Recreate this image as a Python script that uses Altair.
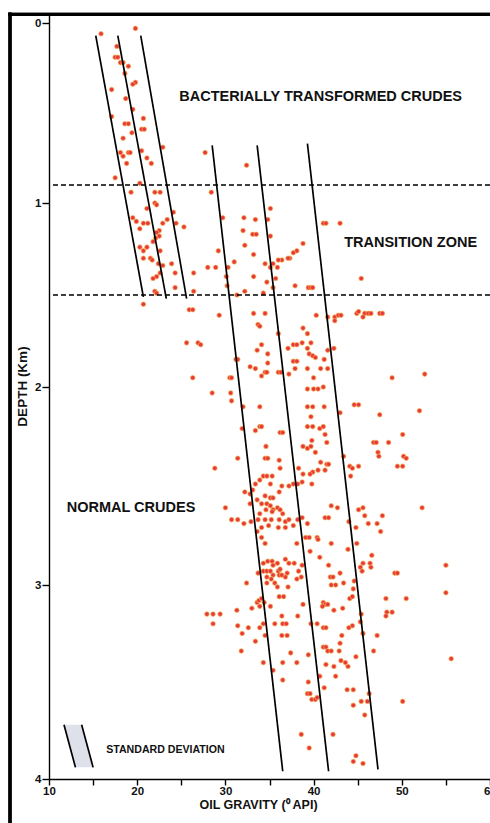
import altair as alt
import pandas as pd

# ---------------- data (API gravity, depth km) ----------------
bacterial = [(15.9,0.06),(19.8,0.03),(17.7,0.13),(17.5,0.19),(17.8,0.19),(18.1,0.22),(18.4,0.22),
             (19.0,0.24),(18.6,0.28),(19.8,0.33),(19.5,0.34),(17.1,0.37),(18.7,0.42),(19.5,0.48),
             (17.1,0.52),(20.7,0.53),(18.6,0.56),(19.0,0.56),(20.5,0.59),(20.8,0.59),(19.4,0.61),
             (18.4,0.64),(22.9,0.69),(18.1,0.72),(18.4,0.74),(19.0,0.72),(19.2,0.72),(20.5,0.71),
             (21.1,0.75),(18.8,0.78),(21.6,0.78),(17.5,0.86),(27.7,0.72),(32.4,0.79),(20.3,0.89)]

transition = [(19.3,0.94),(22.0,0.94),(22.6,0.94),(22.0,1.00),(22.2,1.01),(21.1,1.03),(24.1,1.05),
              (19.5,1.08),(19.9,1.10),(20.7,1.11),(21.2,1.11),(22.9,1.11),(23.4,1.09),(24.4,1.11),
              (25.3,1.13),(20.3,1.14),(22.5,1.15),(22.2,1.16),(22.5,1.18),(22.1,1.19),(21.8,1.21),
              (20.3,1.24),(20.7,1.26),(21.1,1.24),(22.6,1.26),(20.7,1.30),(21.5,1.30),(21.7,1.31),
              (22.4,1.33),(22.9,1.34),(23.9,1.33),(24.3,1.38),(22.6,1.38),(22.2,1.40),(21.8,1.41),
              (26.4,1.38),(24.3,1.46),(22.0,1.48),(22.2,1.49),(26.4,1.48),(28.0,1.35),(28.9,1.35),
              (29.2,1.26),(29.7,1.08),(28.4,0.94),(30.3,1.35),(31.0,1.32),(30.1,1.40),(30.2,1.45),
              (32.1,1.08),(32.0,1.15),(33.4,1.09),(35.1,1.03),(34.8,1.09),(33.1,1.17),(33.5,1.17),
              (35.1,1.18),(32.2,1.23),(33.2,1.28),(38.8,1.22),(38.1,1.26),(37.7,1.27),(37.3,1.30),
              (37.1,1.30),(36.4,1.31),(36.0,1.31),(35.4,1.33),(34.5,1.33),(35.9,1.35),(35.1,1.35),
              (41.1,1.11),(41.4,1.11),(43.0,1.11),(33.2,1.40),(35.7,1.41),(34.7,1.43),(35.4,1.46),
              (37.9,1.45),(39.4,1.46),(39.7,1.46),(39.9,1.46),(45.4,1.41),(32.2,1.48),(31.3,1.50),
              (34.3,1.49)]

normal_upper = [(20.7,1.55),(25.9,1.58),(26.3,1.58),(29.3,1.61),(33.2,1.60),(34.5,1.60),(40.3,1.61),
                (41.6,1.62),(42.4,1.62),(42.8,1.61),(43.1,1.61),(42.4,1.64),(44.9,1.60),(45.1,1.59),
                (45.8,1.60),(46.2,1.60),(46.5,1.60),(47.5,1.60),(47.8,1.60),(45.6,1.62),(33.7,1.66),
                (33.9,1.67),(36.0,1.71),(38.8,1.68),(39.3,1.71),(25.6,1.76),(26.9,1.76),(27.2,1.77),
                (34.1,1.77),(37.1,1.79),(37.7,1.77),(38.1,1.77),(38.7,1.76),(39.7,1.76),(39.3,1.79),
                (39.5,1.82),(33.6,1.80),(34.8,1.82),(41.6,1.80),(42.3,1.79),(39.9,1.83),(40.2,1.84),
                (31.2,1.85),(31.4,1.85),(34.8,1.87),(37.7,1.86),(38.1,1.86),(41.2,1.85),(32.8,1.89),
                (33.4,1.90),(34.5,1.92),(34.7,1.92),(36.0,1.92),(36.3,1.92),(37.9,1.90),(39.3,1.90),
                (40.8,1.90),(41.6,1.90),(37.2,1.93),(34.1,1.94),(30.5,1.95),(30.7,1.95),(26.3,1.95),
                (40.0,1.95),(39.3,2.01),(40.0,2.01),(40.5,2.01),(41.1,2.00),(28.5,2.03),(30.6,2.03),
                (30.7,2.07),(32.0,2.10),(33.9,2.10),(39.3,2.10),(39.9,2.10),(41.2,2.10),(43.0,2.13),
                (39.7,2.15),(31.9,2.21),(33.4,2.22),(33.9,2.20),(34.1,2.20),(36.2,2.23),(36.5,2.23),
                (39.3,2.20),(39.9,2.20),(40.7,2.21),(41.1,2.20),(41.3,2.24),(39.8,2.27),(41.5,2.28),
                (34.6,2.30),(38.8,2.30),(39.3,2.31),(39.7,2.30),(40.2,2.33),(31.4,2.36),(34.5,2.36),
                (34.8,2.36),(48.9,1.95),(52.6,1.93),(44.6,2.09),(45.1,2.09),(47.5,2.14),(52.0,2.12),
                (50.1,2.24),(46.8,2.28),(47.1,2.28),(48.5,2.28),(47.3,2.33),(47.4,2.35),(50.2,2.35),
                (50.5,2.36),(49.5,2.40),(50.1,2.40),(44.1,2.40),(44.4,2.41),(44.2,2.45),(45.1,2.40),
                (43.4,2.35)]

normal_middle = [(41.5,2.39),(41.7,2.39),(41.3,2.42),(40.8,2.38),(40.5,2.42),(39.9,2.43),(39.6,2.44),
                 (38.8,2.44),(39.8,2.49),(38.3,2.41),(38.7,2.48),(38.2,2.49),(37.7,2.49),(37.2,2.50),
                 (36.4,2.50),(36.1,2.53),(35.1,2.49),(36.1,2.37),(36.2,2.41),(28.8,2.41),(34.3,2.45),
                 (34.7,2.45),(35.3,2.45),(33.9,2.47),(33.4,2.49),(33.1,2.52),(32.2,2.53),(32.8,2.54),
                 (34.5,2.55),(35.1,2.56),(35.4,2.56),(33.6,2.57),(32.8,2.59),(34.1,2.59),(34.7,2.59),
                 (35.1,2.60),(35.4,2.62),(35.9,2.61),(36.2,2.62),(36.5,2.64),(33.9,2.64),(34.6,2.62),
                 (35.3,2.63),(30.0,2.61),(30.7,2.67),(31.4,2.67),(32.1,2.69),(32.9,2.68),(33.7,2.67),
                 (34.5,2.67),(35.2,2.67),(36.1,2.67),(36.8,2.68),(37.2,2.67),(38.2,2.67),(38.7,2.66),
                 (39.3,2.69),(37.7,2.70),(41.3,2.66),(41.7,2.66),(42.0,2.60),(42.7,2.61),(44.0,2.68),
                 (44.8,2.71),(45.1,2.62),(45.6,2.61),(45.8,2.65),(47.2,2.69),(47.8,2.65),(46.2,2.69),
                 (47.6,2.73),(52.3,2.61),(33.6,2.73),(34.1,2.71),(34.1,2.76),(34.9,2.70),(36.0,2.71),
                 (36.8,2.71),(39.1,2.76),(39.5,2.76),(40.4,2.76),(40.5,2.77),(38.1,2.79),(34.5,2.79),
                 (42.0,2.79),(44.9,2.79),(39.6,2.83),(40.7,2.86),(43.9,2.82),(46.6,2.85),(45.6,2.89),
                 (46.4,2.89),(46.5,2.91),(45.3,2.91),(45.5,2.93),(41.7,2.90),(43.0,2.94),(41.9,2.96),
                 (42.2,2.96),(42.5,3.00),(43.4,2.99),(44.6,2.98),(44.5,3.02),(44.1,3.07),(44.4,3.06),
                 (49.2,2.94),(49.5,2.94),(55.0,2.90),(55.0,3.04),(48.2,3.07),(50.5,3.07)]

normal_lower = [(34.8,2.88),(35.3,2.88),(35.4,2.90),(35.9,2.89),(34.3,2.89),(33.7,2.94),(34.3,2.93),
                (34.7,2.93),(35.1,2.93),(35.4,2.95),(35.2,2.97),(34.7,2.96),(35.6,2.99),(36.0,2.93),
                (36.1,2.95),(36.8,2.87),(37.2,2.89),(37.8,2.89),(36.4,2.95),(37.0,2.94),(36.2,2.92),
                (36.8,2.96),(38.1,2.97),(38.3,2.93),(38.7,2.90),(32.4,2.99),(34.7,2.99),(35.9,3.01),
                (37.1,3.01),(36.1,3.06),(36.6,3.06),(33.6,3.09),(33.8,3.08),(33.9,3.11),(34.1,3.07),
                (34.4,3.09),(35.1,3.11),(33.0,3.12),(31.3,3.13),(27.9,3.15),(28.6,3.15),(29.4,3.15),
                (28.6,3.20),(38.8,3.10),(41.1,3.09),(41.3,3.10),(41.6,3.10),(41.0,3.11),(43.3,3.12),
                (45.4,3.15),(45.3,3.19),(48.3,3.14),(48.9,3.14),(48.2,3.16),(44.0,3.22),(44.4,3.21),
                (36.4,3.16),(36.5,3.20),(36.9,3.20),(35.6,3.20),(38.2,3.16),(39.7,3.20),(40.4,3.20),
                (41.1,3.22),(41.4,3.22),(33.9,3.22),(32.6,3.22),(31.4,3.21),(31.9,3.25),(34.5,3.26),
                (36.4,3.26),(37.0,3.26),(33.4,3.29),(31.8,3.34),(43.2,3.26),(43.0,3.30),(42.9,3.34),
                (41.1,3.32),(41.4,3.32),(41.6,3.34),(42.0,3.34),(47.2,3.26),(46.8,3.34),(55.6,3.38),
                (43.1,3.39),(43.6,3.40),(43.9,3.42),(44.8,3.37),(42.3,3.42),(41.4,3.41),(42.5,3.47),
                (40.7,3.47),(41.2,3.53),(43.8,3.54),(44.5,3.54),(39.4,3.36),(39.4,3.50),(39.3,3.56),
                (39.6,3.56),(39.8,3.59),(40.2,3.59),(40.4,3.58),(38.1,3.40),(37.4,3.35),(36.5,3.40),
                (36.5,3.49),(34.3,3.40),(35.4,3.44),(46.3,3.56),(50.1,3.60),(45.4,3.60),(46.1,3.60),
                (44.5,3.62),(45.8,3.67),(42.2,3.77),(38.6,3.77),(39.5,3.84),(44.8,3.88),(44.5,3.91),
                (45.6,3.92),(34.3,3.20),(45.6,3.25),(38.6,2.96),(42.0,3.00),(42.3,3.13)]

# trend / standard-deviation lines: (line, api_top, depth_top, api_bottom, depth_bottom)
trend_lines = [("A", 15.3, 0.07, 20.7, 1.51), ("B", 17.8, 0.07, 23.3, 1.52), ("C", 20.4, 0.07, 25.6, 1.52),
               ("D", 28.5, 0.68, 36.5, 3.96), ("E", 33.6, 0.68, 41.7, 3.96), ("F", 39.3, 0.67, 47.3, 3.95),
               ("sd1", 11.7, 3.72, 13.0, 3.94), ("sd2", 13.7, 3.72, 15.0, 3.94)]

zone_boundaries = [0.90, 1.50]

labels = [("BACTERIALLY TRANSFORMED CRUDES", 40.8, 0.41, 14.5),
          ("TRANSITION ZONE", 51.0, 1.22, 14.5),
          ("NORMAL CRUDES", 19.3, 2.61, 14.5),
          ("STANDARD DEVIATION", 23.2, 3.85, 10.6)]

x_ticks = [10, 15, 20, 25, 30, 35, 40, 45, 50, 55, 60]
y_ticks = [0, 0.5, 1, 1.5, 2, 2.5, 3, 3.5, 4]

# ---------------- tables ----------------
pts = pd.DataFrame(bacterial + transition + normal_upper + normal_middle + normal_lower,
                   columns=["api", "depth"])
rows = []
for name, a0, d0, a1, d1 in trend_lines:
    rows.append({"line": name, "api": a0, "depth": d0})
    rows.append({"line": name, "api": a1, "depth": d1})
lines_df = pd.DataFrame(rows)
sd_band = pd.DataFrame({"depth": [3.72, 3.94], "a1": [11.7, 13.0], "a2": [13.7, 15.0]})
bound_df = pd.DataFrame({"depth": zone_boundaries})
lab_df = pd.DataFrame(labels, columns=["text", "api", "depth", "size"])

FONT = "Liberation Sans, Arial, sans-serif"

xscale = alt.Scale(domain=[10, 60], nice=False, zero=False)
# piecewise scale follows the scanned axis spacing
yscale = alt.Scale(domain=[-0.05, 0, 1, 2, 3, 4], range=[0, 9, 189, 373, 571, 765],
                   nice=False, zero=False)

X = alt.X("api:Q", scale=xscale,
          axis=alt.Axis(values=x_ticks, title="OIL GRAVITY (⁰ API)", format="d",
                        labelExpr="datum.value % 10 == 0 ? datum.label : ''",
                        labelFlush=False, tickSize=6, labelPadding=0,
                        titleX=209, titleY=25, titleBaseline="middle", titleAlign="center",
                        titleFontSize=12.5))
Y = alt.Y("depth:Q", scale=yscale,
          axis=alt.Axis(values=y_ticks, title="DEPTH (Km)", format="d",
                        labelExpr="datum.value % 1 == 0 ? format(datum.value, 'd') : ''",
                        tickSize=7, labelPadding=1,
                        titleX=-27, titleY=372, titleBaseline="middle", titleAlign="center",
                        titleAngle=270, titleFontSize=13.5))

band = alt.Chart(sd_band).mark_area(orient="horizontal", color="#dfe1ea").encode(
    y=alt.Y("depth:Q", scale=yscale), x=alt.X("a1:Q", scale=xscale), x2="a2:Q")

dots = alt.Chart(pts).mark_circle(size=21, color="#e8383e", opacity=1,
                                  stroke="#f5b24e", strokeWidth=0.7).encode(x=X, y=Y)

lines = alt.Chart(lines_df).mark_line(color="black", strokeWidth=1.7).encode(
    x=alt.X("api:Q", scale=xscale), y=alt.Y("depth:Q", scale=yscale), detail="line:N")

bounds = alt.Chart(bound_df).mark_rule(color="black", strokeWidth=1.4, strokeDash=[5, 3]).encode(
    y=alt.Y("depth:Q", scale=yscale))

texts = alt.Chart(lab_df).mark_text(font=FONT, fontWeight="bold", color="#111111",
                                    align="center", baseline="middle").encode(
    x=alt.X("api:Q", scale=xscale), y=alt.Y("depth:Q", scale=yscale),
    text="text:N", size=alt.Size("size:Q", scale=None))

frame_left = alt.Chart(bound_df).mark_rule(color="black", strokeWidth=3.3).encode(
    x=alt.value(-39), y=alt.value(-1.5), y2=alt.value(812))
frame_top = alt.Chart(bound_df).mark_rule(color="black", strokeWidth=3.3).encode(
    x=alt.value(-40.6), x2=alt.value(445), y=alt.value(0.3))

chart = alt.layer(band, dots, lines, bounds, texts, frame_left, frame_top).properties(
    width=441, height=765,
    autosize=alt.AutoSizeParams(type="none"),
    padding={"left": 49, "top": 14, "right": 0, "bottom": 44},
    background="white",
).configure_view(stroke=None).configure_axis(
    grid=False, domainColor="black", domainWidth=1.4, tickColor="black", tickWidth=1.4,
    labelFont=FONT, labelFontWeight="bold", labelFontSize=11.5, labelColor="#111111",
    titleFont=FONT, titleFontWeight="bold", titleColor="#111111",
)

chart.save("out.html", embed_options={"renderer": "svg", "actions": False})
